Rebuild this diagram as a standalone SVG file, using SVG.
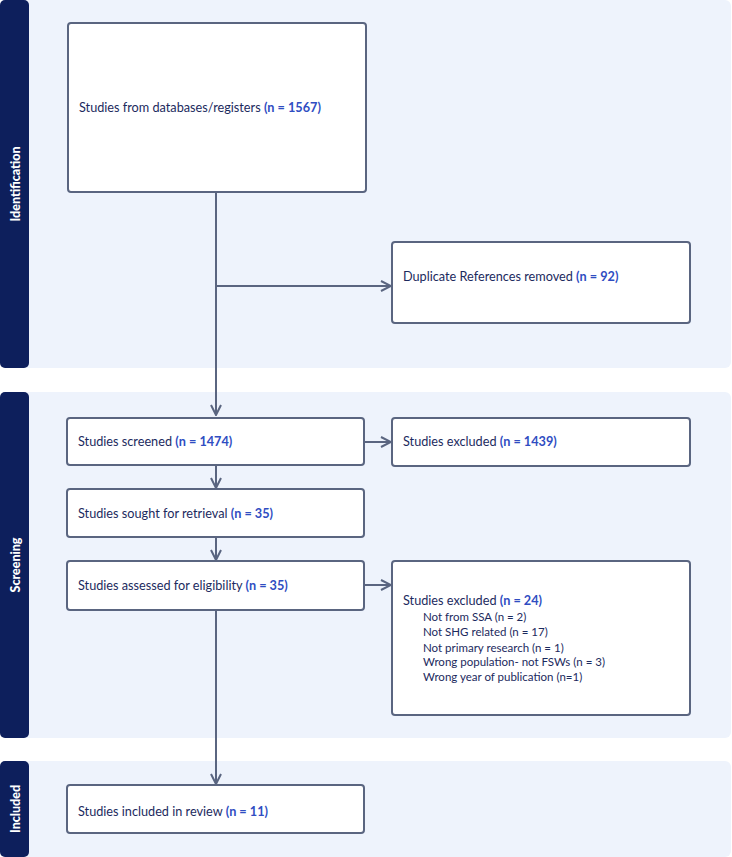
<svg xmlns="http://www.w3.org/2000/svg" width="732" height="857" viewBox="0 0 732 857">
<defs>
<style>
.panel{fill:#eef3fc}
.band{fill:#0d1f5c}
.box{fill:#ffffff;stroke:#5a6580;stroke-width:2}
.t{font-family:Lato,"Liberation Sans",sans-serif;font-size:12.7px;fill:#1c2a5e}
.s{font-family:Lato,"Liberation Sans",sans-serif;font-size:11.5px;fill:#1c2a5e}
.n{font-weight:bold;fill:#2f4dc2}
.side{font-family:Lato,"Liberation Sans",sans-serif;font-size:12.5px;font-weight:900;fill:#ffffff;text-anchor:middle}
.c{fill:none;stroke:#5a6580;stroke-width:2}
</style>
<marker id="ah" viewBox="0 0 12 12" refX="11" refY="6" markerWidth="12" markerHeight="12" markerUnits="userSpaceOnUse" orient="auto">
<path d="M1,1 L11,6 L1,11" fill="none" stroke="#5a6580" stroke-width="2"/>
</marker>
</defs>
<rect width="732" height="857" fill="#ffffff"/>
<g id="phase-identification">
<rect class="panel" x="0" y="0" width="731" height="368" rx="6"/>
<rect class="band" x="0" y="0" width="29" height="368" rx="5"/>
<text class="side" transform="translate(19.5,184) rotate(-90)">Identification</text>
</g>
<g id="phase-screening">
<rect class="panel" x="0" y="392" width="731" height="346" rx="6"/>
<rect class="band" x="0" y="392" width="29" height="346" rx="5"/>
<text class="side" transform="translate(19.5,565) rotate(-90)">Screening</text>
</g>
<g id="phase-included">
<rect class="panel" x="0" y="761" width="731" height="96" rx="6"/>
<rect class="band" x="0" y="761" width="29" height="96" rx="5"/>
<text class="side" transform="translate(19.5,809) rotate(-90)">Included</text>
</g>
<g id="connectors">
<path class="c" d="M216,192 V415" marker-end="url(#ah)"/>
<path class="c" d="M216,286 H391" marker-end="url(#ah)"/>
<path class="c" d="M364,442 H391" marker-end="url(#ah)"/>
<path class="c" d="M216,465 V488" marker-end="url(#ah)"/>
<path class="c" d="M216,537 V560" marker-end="url(#ah)"/>
<path class="c" d="M364,585 H391" marker-end="url(#ah)"/>
<path class="c" d="M216,610 V784" marker-end="url(#ah)"/>
</g>
<g id="node-databases">
<rect class="box" x="68" y="23" width="298" height="169" rx="3"/>
<text class="t" x="79" y="112">Studies from databases/registers <tspan class="n">(n = 1567)</tspan></text>
</g>
<g id="node-duplicates">
<rect class="box" x="392" y="242" width="298" height="81" rx="3"/>
<text class="t" x="403" y="281">Duplicate References removed <tspan class="n">(n = 92)</tspan></text>
</g>
<g id="node-screened">
<rect class="box" x="67" y="418" width="297" height="47" rx="3"/>
<text class="t" x="78" y="446">Studies screened <tspan class="n">(n = 1474)</tspan></text>
</g>
<g id="node-excluded1">
<rect class="box" x="392" y="418" width="298" height="48" rx="3"/>
<text class="t" x="403" y="446">Studies excluded <tspan class="n">(n = 1439)</tspan></text>
</g>
<g id="node-sought">
<rect class="box" x="67" y="489" width="297" height="48" rx="3"/>
<text class="t" x="78" y="518">Studies sought for retrieval <tspan class="n">(n = 35)</tspan></text>
</g>
<g id="node-assessed">
<rect class="box" x="67" y="561" width="297" height="49" rx="3"/>
<text class="t" x="78" y="590">Studies assessed for eligibility <tspan class="n">(n = 35)</tspan></text>
</g>
<g id="node-excluded2">
<rect class="box" x="392" y="561" width="298" height="154" rx="3"/>
<text class="t" x="403" y="605">Studies excluded <tspan class="n">(n = 24)</tspan></text>
<text class="s" x="423" y="621">Not from SSA  (n = 2)</text>
<text class="s" x="423" y="636">Not SHG related (n = 17)</text>
<text class="s" x="423" y="652">Not primary research (n = 1)</text>
<text class="s" x="423" y="666">Wrong population- not FSWs (n = 3)</text>
<text class="s" x="423" y="681">Wrong year of publication (n=1)</text>
</g>
<g id="node-included">
<rect class="box" x="67" y="785" width="297" height="48" rx="3"/>
<text class="t" x="78" y="816">Studies included in review <tspan class="n">(n = 11)</tspan></text>
</g>
</svg>
